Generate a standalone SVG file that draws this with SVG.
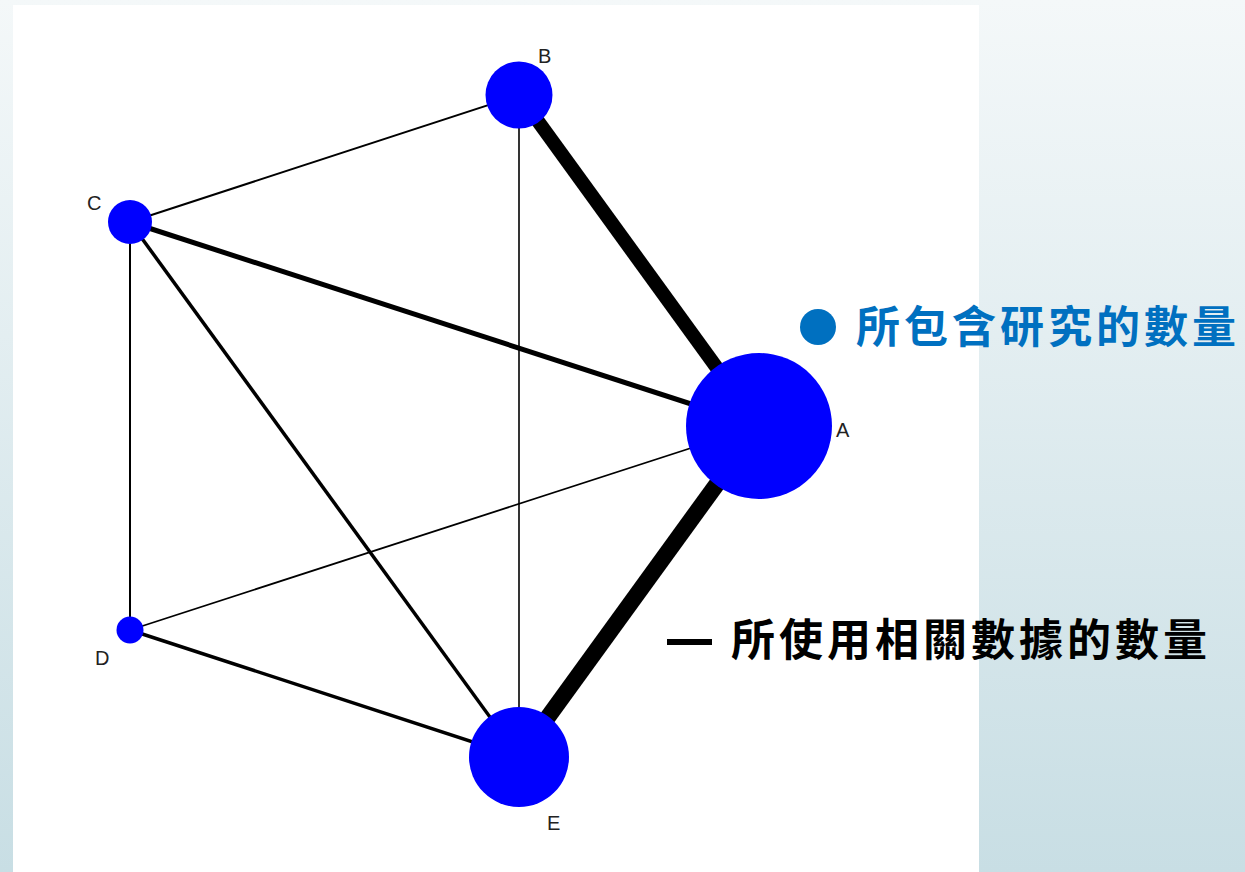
<svg xmlns="http://www.w3.org/2000/svg" width="1245" height="872" viewBox="0 0 1245 872">
<defs>
<linearGradient id="bg" x1="0" y1="0" x2="0" y2="1">
<stop offset="0" stop-color="#f4f8f9"/>
<stop offset="1" stop-color="#c8dee4"/>
</linearGradient>
</defs>
<style>
.edge{stroke:#000;fill:none;stroke-linecap:butt}
.node{fill:#0000ff}
.lbl{font-family:"Liberation Sans",Arial,sans-serif;font-size:20px;fill:#222}
.leg{font-family:"Noto Sans CJK TC","Noto Sans CJK SC",sans-serif;font-weight:bold;font-size:44px;letter-spacing:4px}
</style>
<rect x="0" y="0" width="1245" height="872" fill="url(#bg)"/>
<rect x="13" y="5" width="966" height="867" fill="#fff"/>
<g id="connectors">
<line class="edge" x1="519" y1="95" x2="759" y2="426" stroke-width="14"/>
<line class="edge" x1="759" y1="426" x2="519" y2="757" stroke-width="16.5"/>
<line class="edge" x1="130" y1="222" x2="759" y2="426" stroke-width="5"/>
<line class="edge" x1="130" y1="222" x2="519" y2="95" stroke-width="2"/>
<line class="edge" x1="130" y1="222" x2="130" y2="630" stroke-width="2"/>
<line class="edge" x1="130" y1="222" x2="519" y2="757" stroke-width="3.5"/>
<line class="edge" x1="519" y1="95" x2="519" y2="757" stroke-width="1.6"/>
<line class="edge" x1="130" y1="630" x2="759" y2="426" stroke-width="1.8"/>
<line class="edge" x1="130" y1="630" x2="519" y2="757" stroke-width="3.5"/>
</g>
<g id="node-A"><circle class="node" cx="759" cy="426" r="73"/><text class="lbl" x="836" y="437">A</text></g>
<g id="node-B"><circle class="node" cx="519" cy="95" r="33.5"/><text class="lbl" x="538" y="63">B</text></g>
<g id="node-C"><circle class="node" cx="130" cy="222" r="22"/><text class="lbl" x="87" y="210">C</text></g>
<g id="node-D"><circle class="node" cx="130" cy="630" r="13.5"/><text class="lbl" x="95" y="665">D</text></g>
<g id="node-E"><circle class="node" cx="519" cy="757" r="50"/><text class="lbl" x="547" y="830">E</text></g>
<g id="legend-nodes">
<circle cx="818" cy="327" r="18" fill="#0070c0"/>
<text class="leg" x="856" y="343" fill="#0070c0">所包含研究的數量</text>
</g>
<g id="legend-edges">
<rect x="667" y="639" width="45" height="6" fill="#000"/>
<text class="leg" x="731" y="656" fill="#000">所使用相關數據的數量</text>
</g>
</svg>
